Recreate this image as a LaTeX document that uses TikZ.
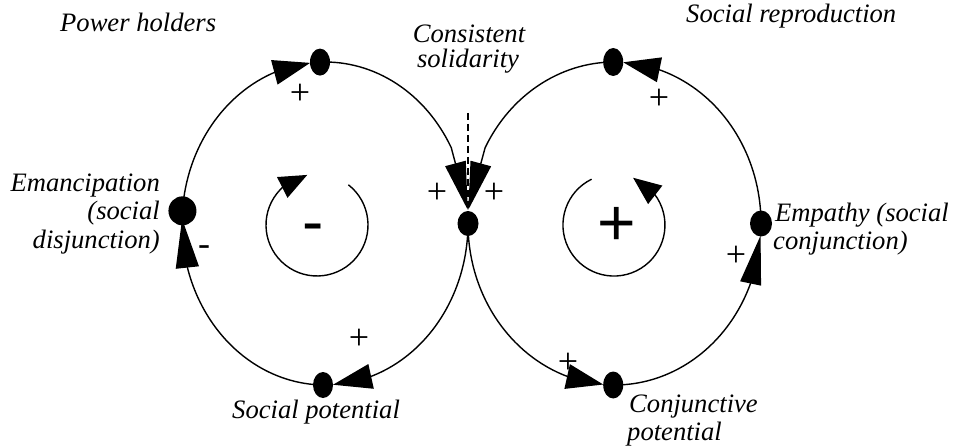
\documentclass[tikz,border=0pt]{standalone}
\usepackage{fontspec}
\setmainfont{Liberation Serif}
\newfontfamily\bigsans{Liberation Sans}
\newfontfamily\labelserif{Liberation Serif}
\usetikzlibrary{shapes.geometric,arrows.meta,bending}
\begin{document}
\begin{tikzpicture}[x=1pt,y=-1pt,
  blob/.style={ellipse,fill=black,inner sep=0pt},
  ring/.style={line width=1.4pt},
  arr/.style 2 args={-{Triangle[length=#1,width=#2,flex]}},
  lbl/.style={inner sep=0pt,font=\labelserif\fontsize{26.6}{28.5}\selectfont\itshape},
  sgn/.style={inner sep=0pt,font=\labelserif\fontsize{36}{36}\selectfont},
]
\useasboundingbox (0,0) rectangle (955,446);

% dots
\node[blob,minimum width=20pt,minimum height=27pt] (Ltop) at (320,62.1) {};
\node[blob,minimum width=21pt,minimum height=25pt] (C) at (468,223.5) {};
\node[blob,minimum width=20pt,minimum height=26pt] (Lbot) at (323,385) {};
\node[blob,minimum width=28pt,minimum height=29pt] (Lleft) at (182.44,210.83) {};
\node[blob,minimum width=20pt,minimum height=28pt] (Rtop) at (613.2,62) {};
\node[blob,minimum width=20pt,minimum height=27pt] (Rbot) at (613.2,385) {};
\node[blob,minimum width=22pt,minimum height=26pt] (Rright) at (761,223.5) {};

% dashed line
\coordinate (dtop) at (468,113);
\draw[line width=1.2pt,dash pattern=on 7pt off 4pt] (dtop) -- (C.north);

% left loop (clockwise)
\draw[ring,arr={37pt}{25pt},shorten >=10pt] (Lleft.center) arc[start angle=184.5,end angle=268,x radius=143,y radius=161.5];
\draw[ring,arr={48pt}{21pt},shorten >=1pt] (Ltop.center) arc[start angle=268,end angle=332,x radius=143,y radius=161.5] -- (C.north);
\draw[ring,arr={39pt}{25pt},shorten >=10pt] (C.center) arc[start angle=0,end angle=90.8,x radius=143,y radius=161.5];
\draw[ring,arr={49pt}{23pt},shorten >=8pt] (Lbot.center) arc[start angle=90.8,end angle=184.5,x radius=143,y radius=161.5];

% right loop (counterclockwise)
\draw[ring,arr={48pt}{21pt},shorten >=1pt] (Rtop.center) arc[start angle=269.5,end angle=208,x radius=146.5,y radius=161.5] -- (C.north);
\draw[ring,arr={37pt}{25pt},shorten >=10pt] (C.center) arc[start angle=180,end angle=90.5,x radius=146.5,y radius=161.5];
\draw[ring,arr={49pt}{21pt},shorten >=12pt] (Rbot.center) arc[start angle=90.5,end angle=0,x radius=146.5,y radius=161.5];
\draw[ring,arr={37pt}{25pt},shorten >=10pt] (Rright.center) arc[start angle=360,end angle=269.5,x radius=146.5,y radius=161.5];

% inner loops
\coordinate (LinS) at (348.4,184.8);
\draw[ring,arr={28pt}{23pt}] (LinS) arc[start angle=-52,end angle=259,radius=51];
\coordinate (RinS) at (591.6,179.2);
\draw[ring,arr={28pt}{23pt}] (RinS) arc[start angle=244,end angle=-68,radius=51];

% loop polarity
\node[inner sep=0pt,font=\fontsize{64}{64}\selectfont\bigsans] (minus) at (313.5,233.8) {-};
\node[inner sep=0pt,font=\fontsize{66}{66}\selectfont\bigsans] (plus) at (617,226) {+};

% link signs
\node[sgn] (s1) at (300,94) {+};
\node[sgn] (s2) at (659,99) {+};
\node[sgn] (s3) at (437,193) {+};
\node[sgn] (s4) at (494,193) {+};
\node[sgn] (s5) at (736,256) {+};
\node[sgn] (s6) at (359,339) {+};
\node[sgn] (s7) at (568,363) {+};
\node[sgn] (s8) at (204,250.5) {-};

% labels
\node[lbl,anchor=base west] (t1) at (60,32) {Power holders};
\node[lbl,anchor=base] (t2a) at (469,43) {Consistent};
\node[lbl,anchor=base] (t2b) at (468,68) {solidarity};
\node[lbl,anchor=base west] (t3) at (686,23) {Social reproduction};
\node[lbl,anchor=base east] (t4a) at (160,192) {Emancipation};
\node[lbl,anchor=base east] (t4b) at (160,220) {(social};
\node[lbl,anchor=base east] (t4c) at (160,248) {disjunction)};
\node[lbl,anchor=base west] (t5a) at (775,222) {Empathy (social};
\node[lbl,anchor=base west] (t5b) at (773,250) {conjunction)};
\node[lbl,anchor=base west] (t6) at (232,418) {Social potential};
\node[lbl,anchor=base west] (t7a) at (629,412) {Conjunctive};
\node[lbl,anchor=base west] (t7b) at (627,440) {potential};
\end{tikzpicture}
\end{document}
